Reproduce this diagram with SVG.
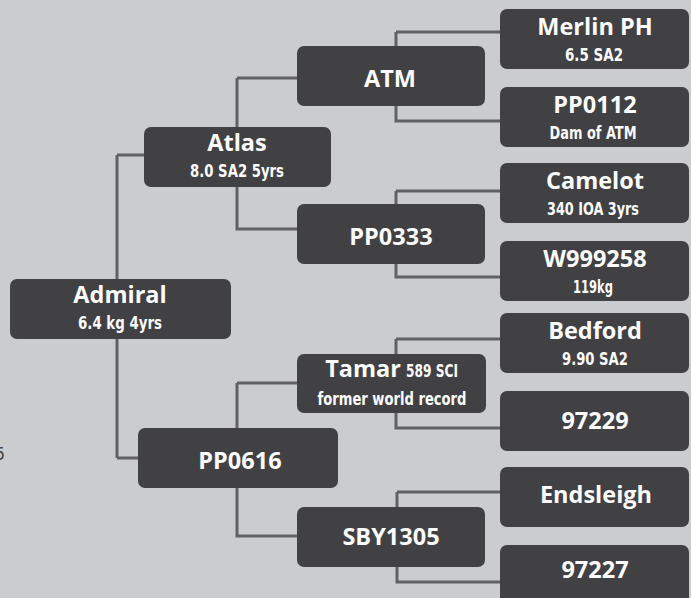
<svg xmlns="http://www.w3.org/2000/svg" width="691" height="598" viewBox="0 0 691 598">
<style>
.bg{fill:#cbcccd}
.n rect{fill:#414143}
.c path{fill:none;stroke:#616163;stroke-width:3}
.t{font-family:"Open Sans","DejaVu Sans",sans-serif;font-weight:bold;font-size:23.5px;fill:#fbfbfb;text-anchor:middle}
.s{font-family:"Liberation Sans Narrow","DejaVu Sans Condensed","Roboto",sans-serif;font-weight:bold;font-size:17px;fill:#fbfbfb;text-anchor:middle}
.f{font-family:"Liberation Sans Narrow","DejaVu Sans Condensed",sans-serif;font-size:18px;fill:#444}
</style>
<rect class="bg" x="0" y="0" width="691" height="598"/>
<g class="c">
<path d="M117 155V458"/>
<path d="M117 155H144"/>
<path d="M117 458H138"/>
<path d="M237 78V127"/>
<path d="M237 78H297"/>
<path d="M237 187V229H297"/>
<path d="M396 32V46"/>
<path d="M396 32H500"/>
<path d="M396 106V121H500"/>
<path d="M396 191V204"/>
<path d="M396 191H500"/>
<path d="M396 264V277H500"/>
<path d="M237 383V428"/>
<path d="M237 383H297"/>
<path d="M237 488V536H297"/>
<path d="M396 339V354"/>
<path d="M396 339H500"/>
<path d="M396 413V428H500"/>
<path d="M397 492V507"/>
<path d="M397 492H500"/>
<path d="M397 567V582H500"/>
</g>
<g id="admiral" class="n"><rect x="10" y="279" width="221" height="60" rx="7"/><text class="t" x="120" y="303">Admiral</text><text class="s" x="120" y="329" textLength="84" lengthAdjust="spacingAndGlyphs">6.4 kg 4yrs</text></g>
<g id="atlas" class="n"><rect x="144" y="127" width="187" height="60" rx="7"/><text class="t" x="237" y="151">Atlas</text><text class="s" x="237" y="177" textLength="94" lengthAdjust="spacingAndGlyphs">8.0 SA2 5yrs</text></g>
<g id="pp0616" class="n"><rect x="138" y="428" width="200" height="60" rx="7"/><text class="t" x="240" y="469">PP0616</text></g>
<g id="atm" class="n"><rect x="297" y="46" width="188" height="60" rx="7"/><text class="t" x="390" y="87">ATM</text></g>
<g id="pp0333" class="n"><rect x="297" y="204" width="188" height="60" rx="7"/><text class="t" x="391" y="245">PP0333</text></g>
<g id="tamar" class="n"><rect x="297" y="354" width="189" height="59" rx="7"/><text class="t" x="363" y="377">Tamar</text><text class="s" x="432" y="377" textLength="52" lengthAdjust="spacingAndGlyphs">589 SCI</text><text class="s" x="392" y="405" textLength="149" lengthAdjust="spacingAndGlyphs">former world record</text></g>
<g id="sby1305" class="n"><rect x="297" y="507" width="188" height="60" rx="7"/><text class="t" x="391" y="545">SBY1305</text></g>
<g id="merlin" class="n"><rect x="500" y="9" width="189" height="60" rx="7"/><text class="t" x="595" y="35">Merlin PH</text><text class="s" x="594" y="61" textLength="58" lengthAdjust="spacingAndGlyphs">6.5 SA2</text></g>
<g id="pp0112" class="n"><rect x="500" y="87" width="189" height="60" rx="7"/><text class="t" x="595" y="113">PP0112</text><text class="s" x="593" y="139" textLength="87" lengthAdjust="spacingAndGlyphs">Dam of ATM</text></g>
<g id="camelot" class="n"><rect x="500" y="163" width="189" height="60" rx="7"/><text class="t" x="595" y="189">Camelot</text><text class="s" x="593" y="215" textLength="92" lengthAdjust="spacingAndGlyphs">340 IOA 3yrs</text></g>
<g id="w999258" class="n"><rect x="500" y="241" width="189" height="60" rx="7"/><text class="t" x="595" y="267">W999258</text><text class="s" x="593" y="293" textLength="40" lengthAdjust="spacingAndGlyphs">119kg</text></g>
<g id="bedford" class="n"><rect x="500" y="313" width="189" height="60" rx="7"/><text class="t" x="595" y="339">Bedford</text><text class="s" x="595" y="365" textLength="66" lengthAdjust="spacingAndGlyphs">9.90 SA2</text></g>
<g id="n97229" class="n"><rect x="500" y="391" width="189" height="60" rx="7"/><text class="t" x="595" y="429">97229</text></g>
<g id="endsleigh" class="n"><rect x="500" y="467" width="189" height="60" rx="7"/><text class="t" x="596" y="503">Endsleigh</text></g>
<g id="n97227" class="n"><rect x="500" y="545" width="189" height="60" rx="7"/><text class="t" x="595" y="578">97227</text></g>
<text class="f" x="5" y="460" text-anchor="end">5</text>
</svg>
